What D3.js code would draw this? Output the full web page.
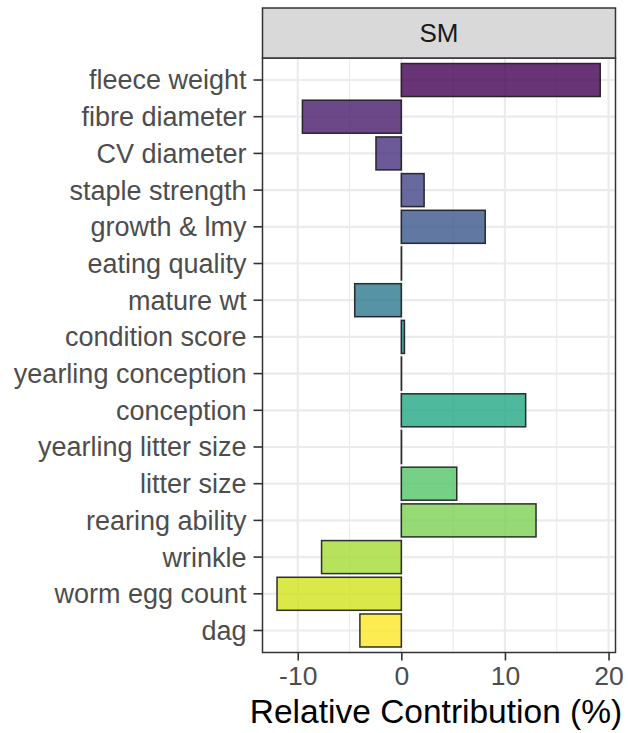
<!DOCTYPE html>
<html><head><meta charset="utf-8">
<script src="https://cdn.jsdelivr.net/npm/d3@7"></script>
<style>body{margin:0;background:#fff}svg{display:block}</style>
</head><body><svg id="c" width="628" height="733"></svg>
<script>
const categories = ["fleece weight","fibre diameter","CV diameter","staple strength","growth & lmy","eating quality","mature wt","condition score","yearling conception","conception","yearling litter size","litter size","rearing ability","wrinkle","worm egg count","dag"];
const values = [19.2,-9.55,-2.45,2.2,8.1,0.02,-4.5,0.3,0.02,12.0,0.02,5.35,13.0,-7.7,-12.0,-4.0];
const xTicks = [-10,0,10,20];
const xMinor = [-5,5,15];
const facet = "SM";
const xTitle = "Relative Contribution (%)";

const svg = d3.select("#c");
const L=262.5, R=615.5, T=58, B=652.5, ST=8;
const x = d3.scaleLinear().domain([-13.4,20.67]).range([L,R]);
const y = d3.scaleBand().domain(categories).range([T,B]).paddingInner(0.1).paddingOuter(0.15);
const color = i => d3.interpolateViridis(i/(categories.length-1));
const font = "'Liberation Sans', Arial, sans-serif";

svg.append("rect").attr("x",L).attr("y",T).attr("width",R-L).attr("height",B-T).attr("fill","#fff");
svg.append("g").selectAll("line").data(xMinor).join("line")
  .attr("x1",d=>x(d)).attr("x2",d=>x(d)).attr("y1",T).attr("y2",B)
  .attr("stroke","#ebebeb").attr("stroke-width",1.2);
svg.append("g").selectAll("line").data(xTicks).join("line")
  .attr("x1",d=>x(d)).attr("x2",d=>x(d)).attr("y1",T).attr("y2",B)
  .attr("stroke","#ebebeb").attr("stroke-width",2.2);
svg.append("g").selectAll("line").data(categories).join("line")
  .attr("x1",L).attr("x2",R).attr("y1",d=>y(d)+y.bandwidth()/2).attr("y2",d=>y(d)+y.bandwidth()/2)
  .attr("stroke","#ebebeb").attr("stroke-width",2.2);

svg.append("g").selectAll("rect").data(categories).join("rect")
  .attr("x",(d,i)=>x(Math.min(0,values[i])))
  .attr("width",(d,i)=>Math.abs(x(values[i])-x(0)))
  .attr("y",d=>y(d)).attr("height",y.bandwidth())
  .attr("fill",(d,i)=>color(i)).attr("fill-opacity",0.8)
  .attr("stroke","#1a1a1a").attr("stroke-opacity",0.9).attr("stroke-width",1.5);

svg.append("rect").attr("x",L).attr("y",T).attr("width",R-L).attr("height",B-T)
  .attr("fill","none").attr("stroke","#333").attr("stroke-width",1.5);
svg.append("rect").attr("x",L).attr("y",ST).attr("width",R-L).attr("height",T-ST)
  .attr("fill","#d9d9d9").attr("stroke","#333").attr("stroke-width",1.5);
svg.append("text").attr("x",(L+R)/2).attr("y",(ST+T)/2+9).attr("text-anchor","middle")
  .attr("font-family",font).attr("font-size",26).attr("fill","#1a1a1a").text(facet);

const yAxis = svg.append("g").attr("transform",`translate(${L},0)`)
  .call(d3.axisLeft(y).tickSize(9).tickPadding(7));
yAxis.select(".domain").remove();
yAxis.selectAll("line").attr("stroke","#333").attr("stroke-width",1.6);
yAxis.selectAll("text").attr("font-family",font).attr("font-size",27).attr("fill","#4d4d4d").attr("dy","0.35em");

const xAxis = svg.append("g").attr("transform",`translate(0,${B})`)
  .call(d3.axisBottom(x).tickValues(xTicks).tickFormat(d=>String(d)).tickSize(8).tickPadding(6));
xAxis.select(".domain").remove();
xAxis.selectAll("line").attr("stroke","#333").attr("stroke-width",1.6);
xAxis.selectAll("text").attr("font-family",font).attr("font-size",26.5).attr("fill","#4d4d4d").attr("dy","0.7em");

svg.append("text").attr("x",(L+R)/2 - 3).attr("y",723).attr("text-anchor","middle")
  .attr("font-family",font).attr("font-size",33.5).attr("fill","#000").text(xTitle);
</script></body></html>
